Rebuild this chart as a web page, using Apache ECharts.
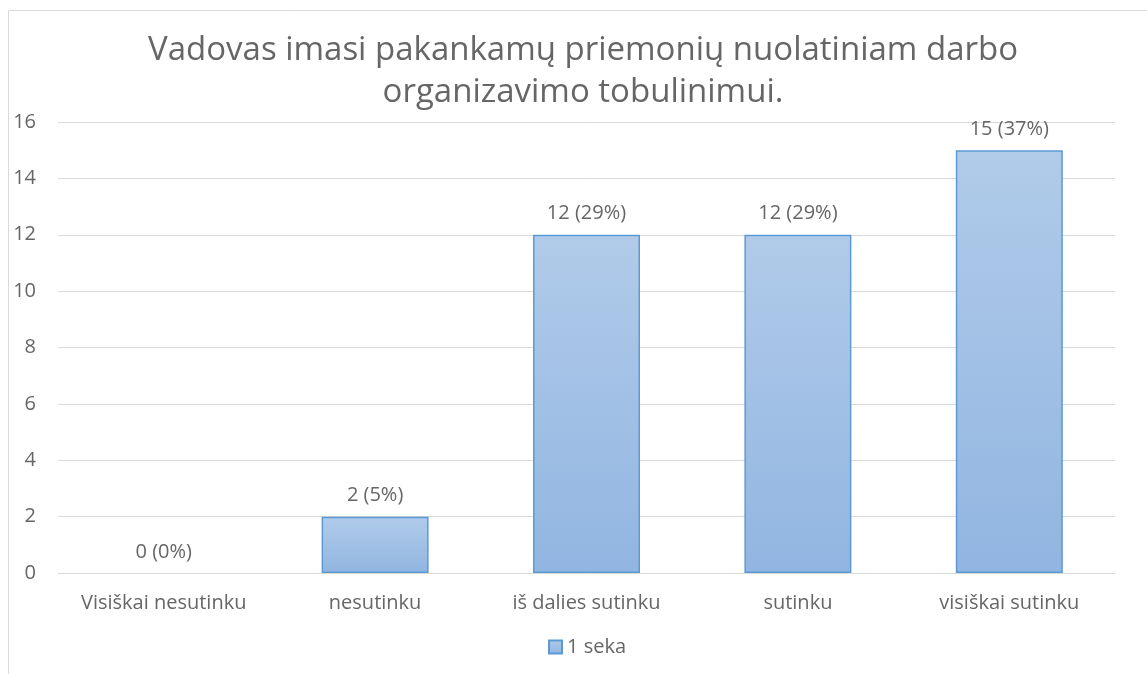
<!DOCTYPE html>
<html>
<head>
<meta charset="utf-8">
<script src="https://cdn.jsdelivr.net/npm/echarts@6/dist/echarts.min.js"></script>
<style>
  html, body { margin: 0; padding: 0; background: #fff; }
  #main { width: 1147px; height: 674px; }
</style>
</head>
<body>
<div id="main"></div>
<script>
// duomenys
const categories = ["Visiškai nesutinku", "nesutinku", "iš dalies sutinku", "sutinku", "visiškai sutinku"];
const counts = [0, 2, 12, 12, 15];
const percents = ["0%", "5%", "29%", "29%", "37%"];
const yTicks = [0, 2, 4, 6, 8, 10, 12, 14, 16];

const textColor = "#666666";
const font = "Open Sans";
const small = 20;

const myChart = echarts.init(document.getElementById("main"));

const barFill = new echarts.graphic.LinearGradient(0, 0, 0, 1, [
  { offset: 0, color: "#b1cbe9" },
  { offset: 1, color: "#91b5e1" },
]);

// nulinis stulpelis be rėmelio
const barData = counts.map((v) =>
  v === 0 ? { value: v, itemStyle: { borderWidth: 0 } } : v
);

myChart.setOption({
  animation: false,
  textStyle: { fontFamily: font },
  graphic: [
    {
      type: "rect",
      shape: { x: 8.5, y: 10.5, width: 1300, height: 800 },
      style: { fill: "none", stroke: "#d9d9d9", lineWidth: 1 },
      silent: true,
    },
  ],
  title: {
    text: "Vadovas imasi pakankamų priemonių nuolatiniam darbo\norganizavimo tobulinimui.",
    left: 578,
    textAlign: "center",
    top: 25,
    textStyle: {
      color: textColor,
      fontSize: 33,
      fontWeight: "normal",
      fontFamily: font,
      lineHeight: 42,
    },
  },
  legend: {
    bottom: 12,
    left: 543,
    itemWidth: 13,
    itemHeight: 13,
    itemGap: 5,
    icon: "rect",
    data: ["1 seka"],
    textStyle: { color: textColor, fontSize: small, fontFamily: font },
  },
  grid: {
    left: 58,
    right: 32,
    top: 122,
    bottom: 101,
  },
  xAxis: {
    type: "category",
    data: categories,
    axisLine: { lineStyle: { color: "#d9d9d9" } },
    axisTick: { show: false },
    axisLabel: { color: textColor, fontSize: small, margin: 20, interval: 0, fontFamily: font },
  },
  yAxis: {
    type: "value",
    min: yTicks[0],
    max: yTicks[yTicks.length - 1],
    interval: 2,
    axisLine: { show: false },
    axisTick: { show: false },
    axisLabel: { color: textColor, fontSize: small, margin: 22, fontFamily: font },
    splitLine: { lineStyle: { color: "#d9d9d9", width: 1 } },
  },
  series: [
    {
      name: "1 seka",
      type: "bar",
      data: barData,
      barWidth: 107,
      itemStyle: {
        color: barFill,
        borderColor: "#5b9bd5",
        borderWidth: 1.5,
      },
      label: {
        show: true,
        position: "top",
        distance: 11,
        color: textColor,
        fontSize: small,
        fontFamily: font,
        formatter: (p) => p.value + " (" + percents[p.dataIndex] + ")",
      },
    },
  ],
});
</script>
</body>
</html>
